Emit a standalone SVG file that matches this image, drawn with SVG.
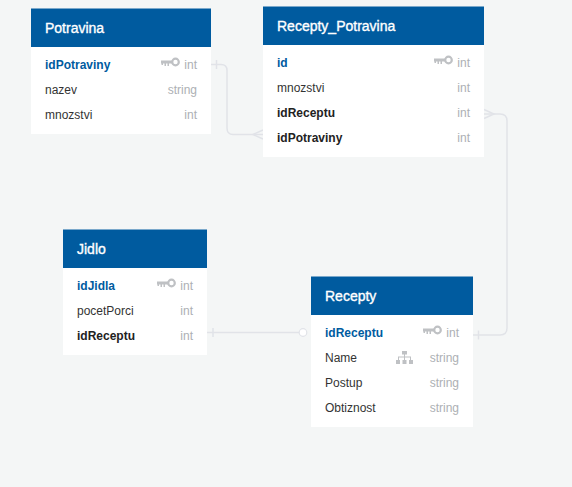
<svg xmlns="http://www.w3.org/2000/svg" width="572" height="487" viewBox="0 0 572 487">
<style>
text{font-family:"Liberation Sans",Arial,sans-serif;font-size:12px}
.bg{fill:#f4f6f6}
.hd{fill:#005b9f}
.bd{fill:#fff}
.tt{fill:#fff;font-size:14px;stroke:#fff;stroke-width:.35px}
.pk{fill:#005b9f;font-weight:bold}
.fk{fill:#222;font-weight:bold}
.f{fill:#333}
.ty{fill:#adb0b4;text-anchor:end}
.c{fill:none;stroke:#e1e3e8;stroke-width:1.5}
.ic{fill:#bfc1c4}
</style>
<defs>
<g id="key"><circle cx="14.500" cy="3" r="3.300" fill="none" stroke="#bfc1c4" stroke-width="2.200"/><path class="ic" d="M0 1.500H12V4.500H8V7H6.500V4.500H5V7H3.500V4.500H2V6H.5V4.500H0Z"/></g>
</defs>
<rect class="bg" width="572" height="487"/>
<g id="connectors">
<path class="c" d="M211 64.500H221Q227 64.500 227 70.500V128Q227 134.500 233 134.500H263"/>
<path class="c" d="M216.500 60V69M263 130L253 134.500L263 139"/>
<path class="c" d="M473 335H500Q507 335 507 328V121Q507 114 500 114H484"/>
<path class="c" d="M478.500 330.500V339.500M484 109.500L494 114L484 118.500"/>
<path class="c" d="M207 332.500H299"/>
<path class="c" d="M213 328V337"/>
<circle cx="303" cy="332.500" r="3.800" fill="#fff" stroke="#e1e3e8" stroke-width="1.200"/>
</g>
<g id="node-potravina">
<rect class="bd" x="31" y="47" width="180" height="87"/>
<rect class="hd" x="31" y="8.500" width="180" height="38.500"/>
<text class="tt" x="45" y="33">Potravina</text>
<text class="pk" x="45" y="69">idPotraviny</text>
<use href="#key" x="161" y="59"/>
<text class="ty" x="197" y="69">int</text>
<text class="f" x="45" y="94">nazev</text>
<text class="ty" x="197" y="94">string</text>
<text class="f" x="45" y="119">mnozstvi</text>
<text class="ty" x="197" y="119">int</text>
</g>
<g id="node-recepty-potravina">
<rect class="bd" x="263" y="45" width="221" height="112"/>
<rect class="hd" x="263" y="6.500" width="221" height="38.500"/>
<text class="tt" x="277" y="31">Recepty_Potravina</text>
<text class="pk" x="277" y="67">id</text>
<use href="#key" x="434" y="57"/>
<text class="ty" x="470" y="67">int</text>
<text class="f" x="277" y="92">mnozstvi</text>
<text class="ty" x="470" y="92">int</text>
<text class="fk" x="277" y="117">idReceptu</text>
<text class="ty" x="470" y="117">int</text>
<text class="fk" x="277" y="142">idPotraviny</text>
<text class="ty" x="470" y="142">int</text>
</g>
<g id="node-jidlo">
<rect class="bd" x="63" y="268" width="144" height="87"/>
<rect class="hd" x="63" y="229.500" width="144" height="38.500"/>
<text class="tt" x="77" y="254">Jidlo</text>
<text class="pk" x="77" y="290">idJidla</text>
<use href="#key" x="157" y="280"/>
<text class="ty" x="193" y="290">int</text>
<text class="f" x="77" y="315">pocetPorci</text>
<text class="ty" x="193" y="315">int</text>
<text class="fk" x="77" y="340">idReceptu</text>
<text class="ty" x="193" y="340">int</text>
</g>
<g id="node-recepty">
<rect class="bd" x="311" y="315" width="162" height="112"/>
<rect class="hd" x="311" y="276.500" width="162" height="38.500"/>
<text class="tt" x="325" y="301">Recepty</text>
<text class="pk" x="325" y="337">idReceptu</text>
<use href="#key" x="423" y="327"/>
<text class="ty" x="459" y="337">int</text>
<text class="f" x="325" y="362">Name</text>
<path class="ic" d="M402 351H407V354.500H405V356.500H411V360H413V364H409V360H410V357.500H405V360H406.500V364H402.500V360H404V357.500H399V360H400V364H396V360H398V356.500H404V354.500H402Z"/>
<text class="ty" x="459" y="362">string</text>
<text class="f" x="325" y="387">Postup</text>
<text class="ty" x="459" y="387">string</text>
<text class="f" x="325" y="412">Obtiznost</text>
<text class="ty" x="459" y="412">string</text>
</g>
</svg>
